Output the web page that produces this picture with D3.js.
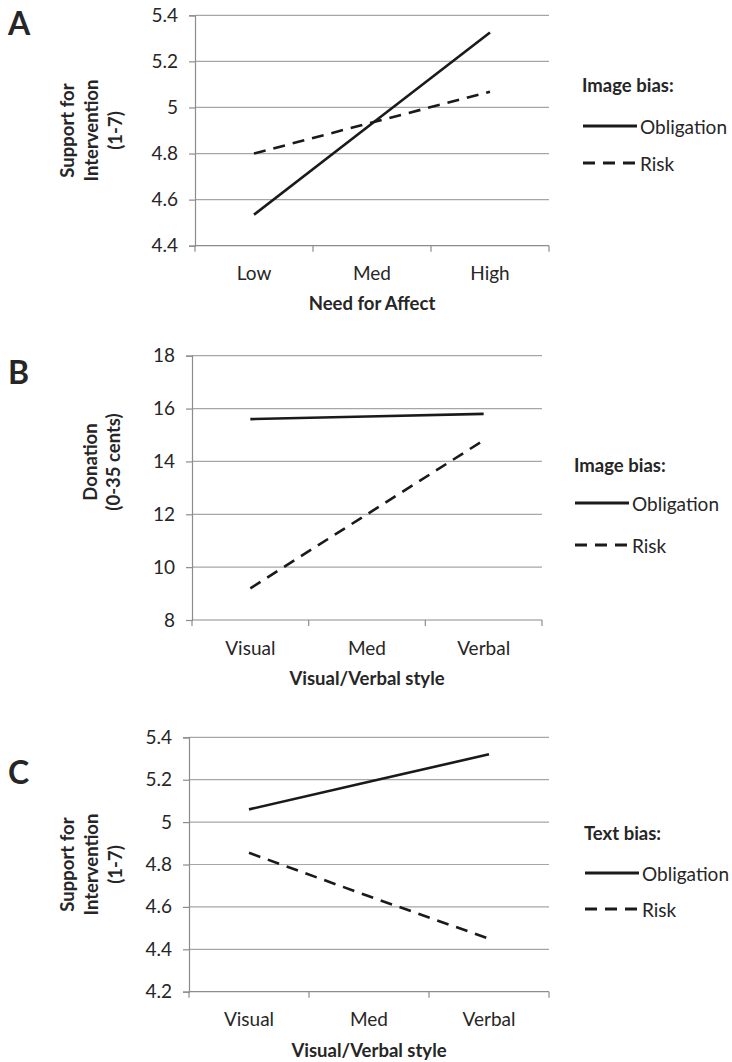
<!DOCTYPE html>
<html>
<head>
<meta charset="utf-8">
<script src="https://cdn.jsdelivr.net/npm/d3@7"></script>
<style>
  html, body { margin: 0; padding: 0; background: #fff; }
  svg { display: block; }
  text { font-family: Lato, "Open Sans", sans-serif; fill: #262626; }
</style>
</head>
<body>
<svg id="chart" width="732" height="1062"></svg>
<script>
// ---------- Data ----------
const panelA_categories = ["Low", "Med", "High"];
const panelA_obligation = [4.535, 4.93, 5.325];
const panelA_risk = [4.80, 4.935, 5.068];
const panelA_yTicks = [4.4, 4.6, 4.8, 5, 5.2, 5.4];

const panelB_categories = ["Visual", "Med", "Verbal"];
const panelB_obligation = [15.6, 15.7, 15.8];
const panelB_risk = [9.2, 12.0, 14.8];
const panelB_yTicks = [8, 10, 12, 14, 16, 18];

const panelC_categories = ["Visual", "Med", "Verbal"];
const panelC_obligation = [5.06, 5.19, 5.32];
const panelC_risk = [4.855, 4.65, 4.45];
const panelC_yTicks = [4.2, 4.4, 4.6, 4.8, 5, 5.2, 5.4];

const seriesNames = ["Obligation", "Risk"];
const panelLetters = ["A", "B", "C"];
const xTitles = ["Need for Affect", "Visual/Verbal style", "Visual/Verbal style"];
const yTitles = [["Support for", "Intervention", "(1-7)"], ["Donation", "(0-35 cents)"], ["Support for", "Intervention", "(1-7)"]];
const legendTitles = ["Image bias:", "Image bias:", "Text bias:"];

// ---------- Layout ----------
const svg = d3.select("#chart");
const GRID = "#a6a6a6";
const AXIS = "#8c8c8c";
const INK = "#1a1a1a";

const panels = [
  { cats: panelA_categories, obl: panelA_obligation, risk: panelA_risk, ticks: panelA_yTicks,
    left: 195, right: 549, top: 15.3, bottom: 245.7,
    letter: { x: 8, y: 22 }, yTitle: { xs: [67, 91, 115], y: 130.5 },
    xLab: 272, xTitleY: 303,
    legend: { x: 583, titleY: 85, oblY: 126, riskY: 163 } },
  { cats: panelB_categories, obl: panelB_obligation, risk: panelB_risk, ticks: panelB_yTicks,
    left: 192, right: 542, top: 355.7, bottom: 620,
    letter: { x: 8, y: 371 }, yTitle: { xs: [90, 113], y: 462 },
    xLab: 647, xTitleY: 678,
    legend: { x: 575, titleY: 465, oblY: 503, riskY: 545 } },
  { cats: panelC_categories, obl: panelC_obligation, risk: panelC_risk, ticks: panelC_yTicks,
    left: 189, right: 549, top: 737.3, bottom: 991.7,
    letter: { x: 8, y: 771 }, yTitle: { xs: [67, 91, 115], y: 864.5 },
    xLab: 1018, xTitleY: 1050,
    legend: { x: 585, titleY: 833, oblY: 873, riskY: 909 } }
];

panels.forEach((p, i) => {
  const g = svg.append("g");
  const x = d3.scaleBand().domain(p.cats).range([p.left, p.right]).paddingInner(0).paddingOuter(0);
  const y = d3.scaleLinear().domain([d3.min(p.ticks), d3.max(p.ticks)]).range([p.bottom, p.top]);

  // gridlines
  g.append("g").selectAll("line").data(p.ticks.slice(1)).join("line")
    .attr("x1", p.left).attr("x2", p.right)
    .attr("y1", d => y(d)).attr("y2", d => y(d))
    .attr("stroke", GRID).attr("stroke-width", 1.2);

  // y axis
  const yAxis = d3.axisLeft(y).tickValues(p.ticks).tickFormat(d => String(d)).tickSize(6).tickPadding(11);
  const ya = g.append("g").attr("transform", `translate(${p.left},0)`).call(yAxis);
  ya.select(".domain").attr("stroke", AXIS).attr("stroke-width", 1.2);
  ya.selectAll(".tick line").attr("stroke", AXIS).attr("stroke-width", 1.2);
  ya.selectAll(".tick text").attr("font-size", 19).attr("font-family", "Lato, sans-serif").attr("fill", "#262626");

  // x axis (bottom line + ticks at band boundaries)
  g.append("line").attr("x1", p.left).attr("x2", p.right)
    .attr("y1", p.bottom).attr("y2", p.bottom).attr("stroke", AXIS).attr("stroke-width", 1.2);
  const bounds = p.cats.map(c => x(c)).concat([x(p.cats[p.cats.length - 1]) + x.bandwidth()]);
  g.append("g").selectAll("line").data(bounds).join("line")
    .attr("x1", d => d).attr("x2", d => d)
    .attr("y1", p.bottom).attr("y2", p.bottom + 6)
    .attr("stroke", AXIS).attr("stroke-width", 1.2);
  g.append("g").selectAll("text").data(p.cats).join("text")
    .attr("x", d => x(d) + x.bandwidth() / 2).attr("y", p.xLab)
    .attr("text-anchor", "middle").attr("dominant-baseline", "central")
    .attr("font-size", 19).text(d => d);

  // x title
  g.append("text").attr("x", (p.left + p.right) / 2).attr("y", p.xTitleY)
    .attr("text-anchor", "middle").attr("dominant-baseline", "central")
    .attr("font-size", 18.5).attr("font-weight", "bold").text(xTitles[i]);

  // y title
  yTitles[i].forEach((t, k) => {
    g.append("text").attr("transform", `translate(${p.yTitle.xs[k]},${p.yTitle.y}) rotate(-90)`)
      .attr("text-anchor", "middle").attr("dominant-baseline", "central")
      .attr("font-size", 18.5).attr("font-weight", "bold").text(t);
  });

  // panel letter
  g.append("text").attr("x", p.letter.x).attr("y", p.letter.y)
    .attr("dominant-baseline", "central")
    .attr("font-size", 32).attr("font-weight", "bold").attr("fill", "#1a1a1a").text(panelLetters[i]);

  // lines
  const line = d3.line().x((d, k) => x(p.cats[k]) + x.bandwidth() / 2).y(d => y(d));
  g.append("path").datum(p.obl).attr("d", line)
    .attr("fill", "none").attr("stroke", INK).attr("stroke-width", 2.6);
  g.append("path").datum(p.risk).attr("d", line)
    .attr("fill", "none").attr("stroke", INK).attr("stroke-width", 2.6)
    .attr("stroke-dasharray", "12,8");

  // legend
  const L = p.legend;
  g.append("text").attr("x", L.x - 1).attr("y", L.titleY).attr("dominant-baseline", "central")
    .attr("font-size", 18.5).attr("font-weight", "bold").text(legendTitles[i]);
  [[seriesNames[0], L.oblY, null], [seriesNames[1], L.riskY, "12,8"]].forEach(([name, yy, dash]) => {
    const ln = g.append("line").attr("x1", L.x).attr("x2", L.x + 54)
      .attr("y1", yy).attr("y2", yy).attr("stroke", INK).attr("stroke-width", 3);
    if (dash) ln.attr("stroke-dasharray", dash);
    g.append("text").attr("x", L.x + 57).attr("y", yy).attr("dominant-baseline", "central")
      .attr("font-size", 19).text(name);
  });
});
</script>
</body>
</html>
